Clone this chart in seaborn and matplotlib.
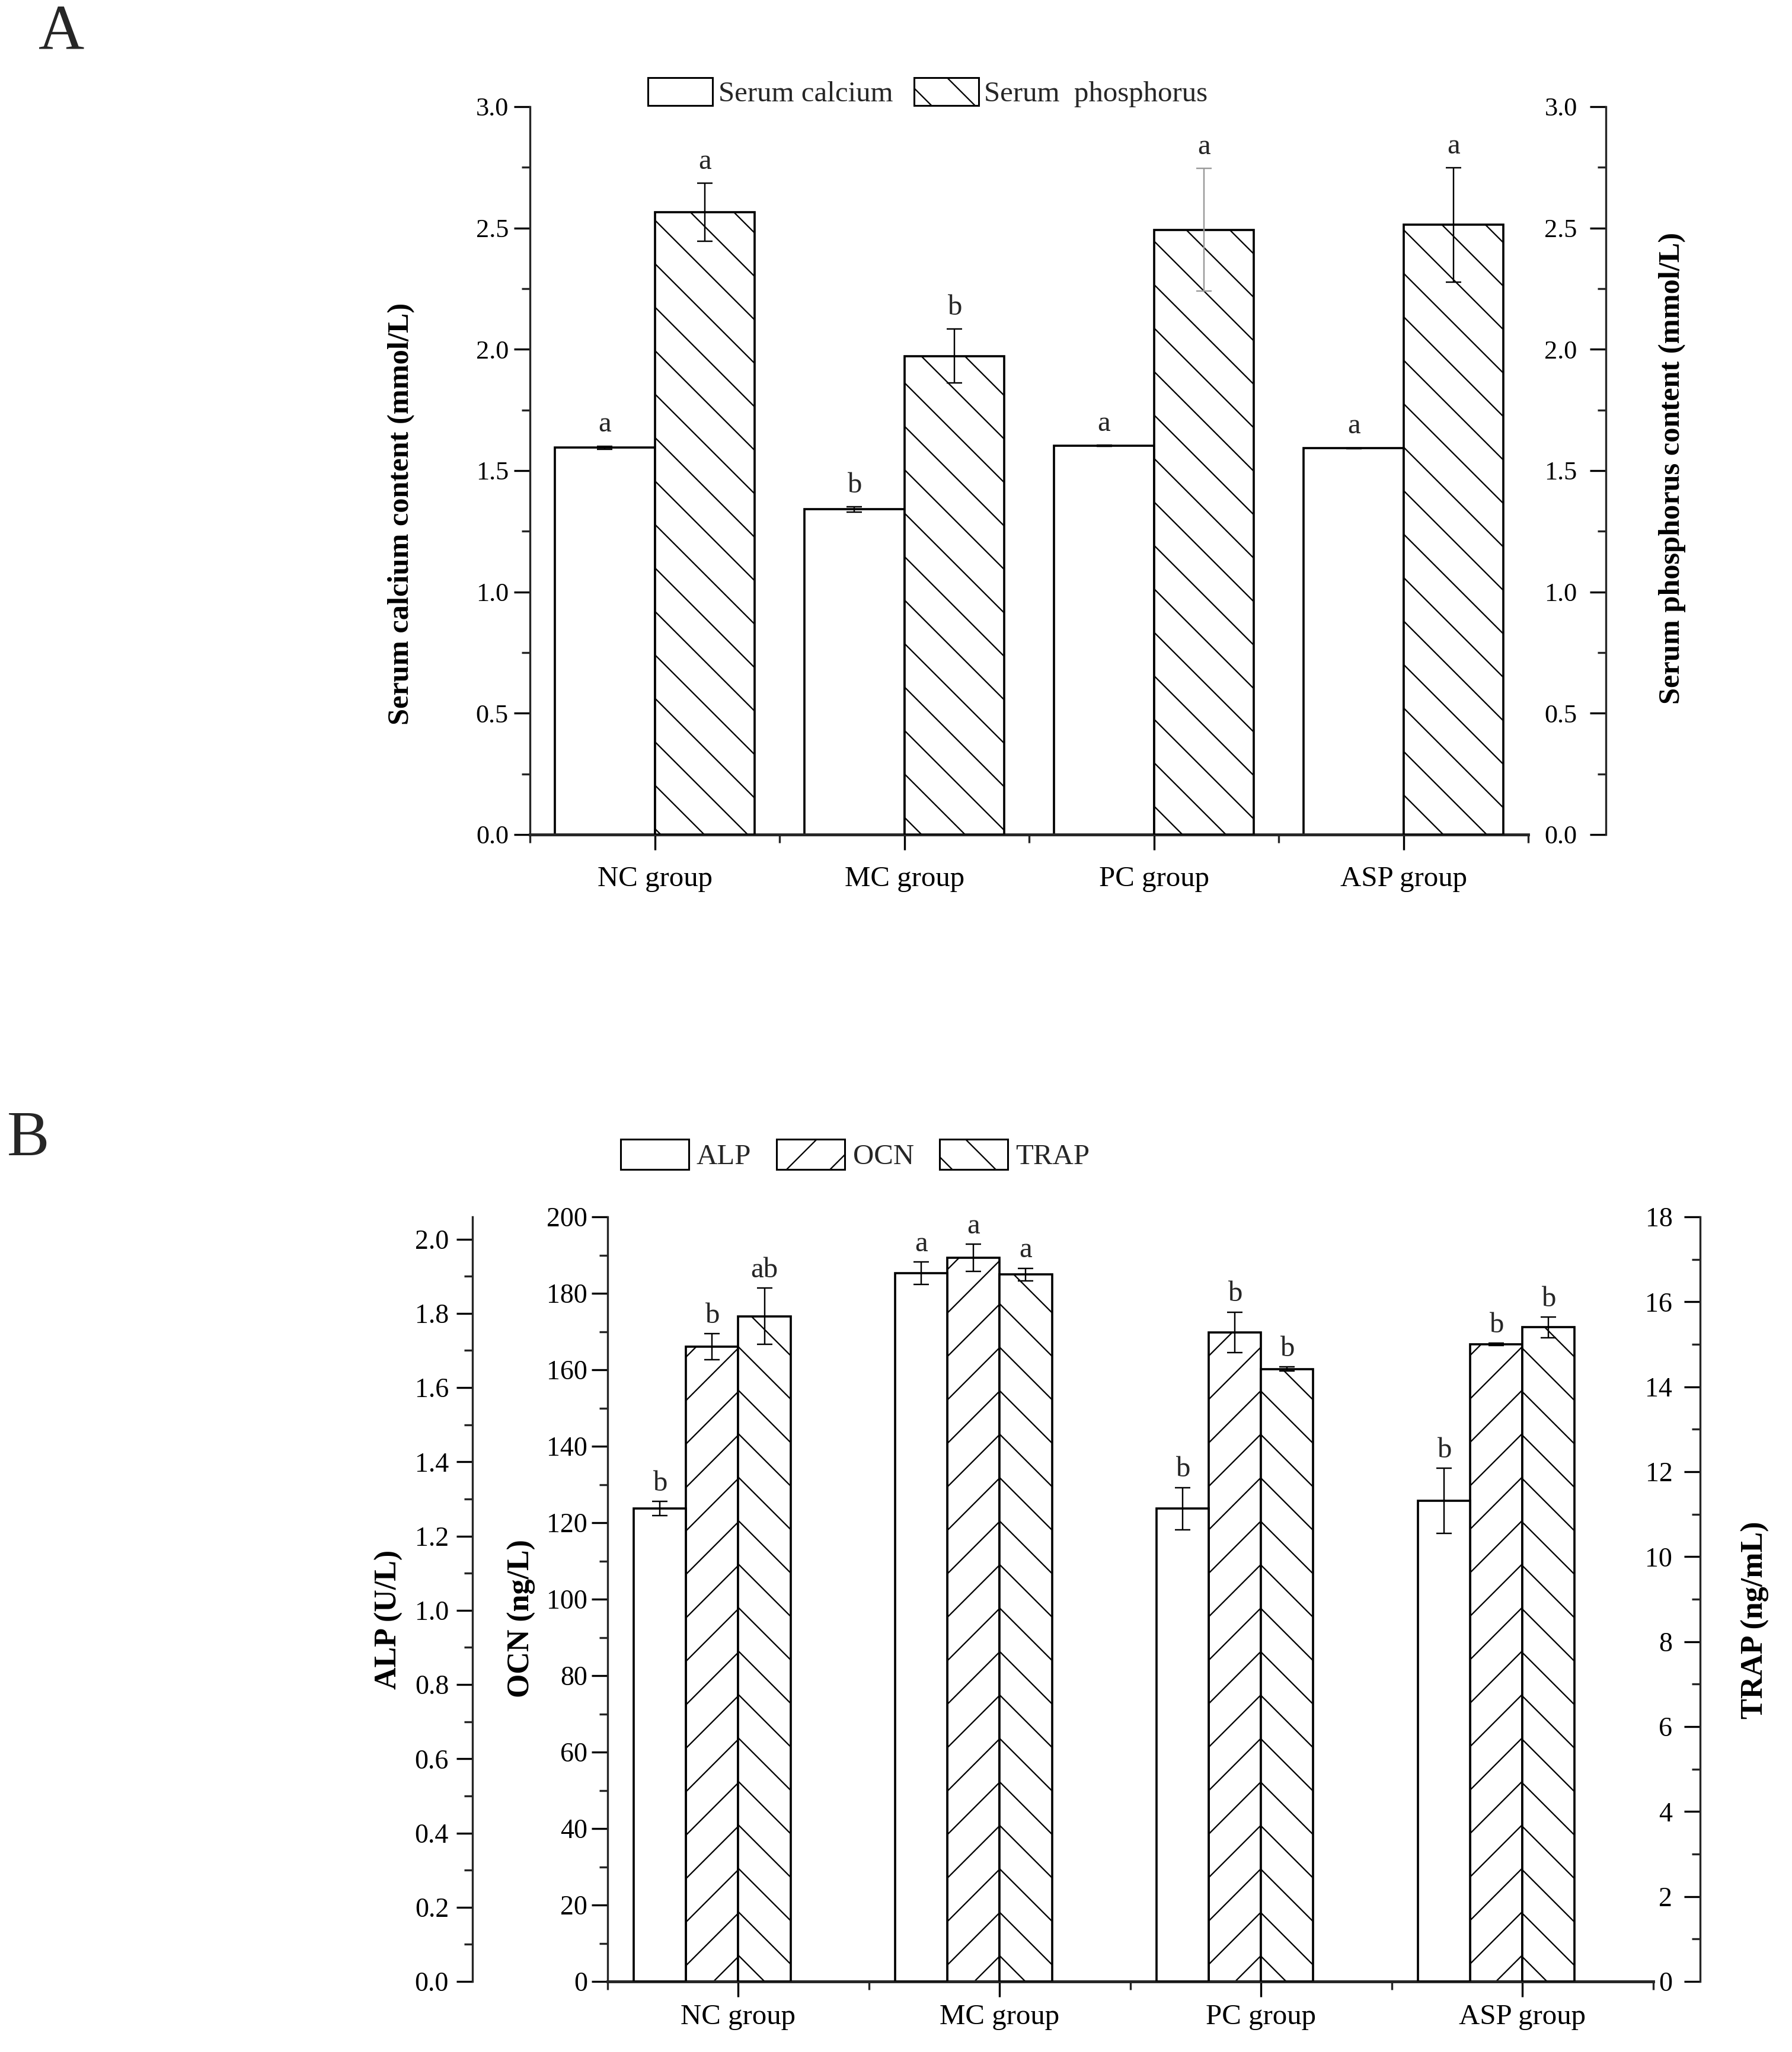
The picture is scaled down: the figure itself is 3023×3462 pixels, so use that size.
import matplotlib
matplotlib.use('Agg')
import matplotlib.pyplot as plt
from matplotlib.patches import Patch
from matplotlib.ticker import MultipleLocator, FixedLocator, FormatStrFormatter
import seaborn as sns

groups = ['NC group', 'MC group', 'PC group', 'ASP group']

# Panel A: serum calcium / phosphorus (mmol/L)
calcium = [1.595, 1.340, 1.602, 1.592]
calcium_err = [0.006, 0.010, 0.003, 0.002]
calcium_sig = ['a', 'b', 'a', 'a']
phosphorus = [2.565, 1.972, 2.493, 2.513]
phosphorus_err = [0.119, 0.111, 0.253, 0.235]
phosphorus_sig = ['a', 'b', 'a', 'a']

# Panel B: ALP (U/L), OCN (ng/L), TRAP (ng/mL)
alp = [1.274, 1.908, 1.274, 1.295]
alp_err = [0.019, 0.030, 0.057, 0.088]
alp_sig = ['b', 'a', 'b', 'b']
ocn = [166.0, 189.3, 169.8, 166.7]
ocn_err = [3.4, 3.5, 5.3, 0.3]
ocn_sig = ['b', 'a', 'b', 'b']
trap = [15.66, 16.64, 14.42, 15.40]
trap_err = [0.66, 0.15, 0.05, 0.24]
trap_sig = ['ab', 'a', 'b', 'b']

sns.set_theme(style='ticks')
plt.rcParams['font.family'] = ['Liberation Serif', 'DejaVu Serif']
plt.rcParams['hatch.linewidth'] = 0.75
plt.rcParams['axes.linewidth'] = 1.1

DPI = 220
fig = plt.figure(figsize=(3023 / DPI, 3462 / DPI), dpi=DPI)
fig.patch.set_facecolor('white')


def bars(ax, pos, vals, width, hatch):
    sns.barplot(x=pos, y=vals, native_scale=True, width=width, color='white',
                saturation=1, edgecolor='black', linewidth=1.2, hatch=hatch,
                errorbar=None, ax=ax, zorder=2)


def errs(ax, pos, vals, err, colors=None):
    for i, (p, v, e) in enumerate(zip(pos, vals, err)):
        c = colors[i] if colors else 'black'
        ax.errorbar(p, v, yerr=e, fmt='none', ecolor=c, elinewidth=0.8,
                    capsize=4.4, capthick=0.8, zorder=3)


def letters(ax, pos, vals, err, sig, off):
    for p, v, e, s in zip(pos, vals, err, sig):
        ax.annotate(s, xy=(p, v + e), xytext=(0, off), textcoords='offset points',
                    ha='center', va='baseline', fontsize=16)


def yaxis_style(ax, major, minor, fmt, size, pad):
    ax.yaxis.set_major_locator(MultipleLocator(major))
    ax.yaxis.set_minor_locator(MultipleLocator(minor))
    ax.yaxis.set_major_formatter(FormatStrFormatter(fmt))
    ax.tick_params(axis='y', which='major', direction='out', length=8.8, width=1.1,
                   labelsize=size, pad=pad, colors='black')
    ax.tick_params(axis='y', which='minor', direction='out', length=4.6, width=1.1)


def xaxis_style(ax, pad):
    ax.xaxis.set_major_locator(FixedLocator(range(len(groups))))
    ax.xaxis.set_minor_locator(FixedLocator([i - 0.5 for i in range(len(groups) + 1)]))
    ax.set_xticklabels(groups)
    ax.tick_params(axis='x', which='major', direction='out', length=8.5, width=1.1,
                   labelsize=16, pad=pad, colors='black')
    ax.tick_params(axis='x', which='minor', direction='out', length=4.6, width=1.1)
    ax.spines['bottom'].set_linewidth(1.6)
    # the category axis stops at the last half-step, short of the right spine
    ax.spines['bottom'].set_bounds(-0.5, len(groups) - 0.5)


def right_axis_left_labels(ax):
    # right-hand axis whose ticks and labels sit on the inner side of the spine
    for s in ['right', 'top', 'bottom']:
        ax.spines[s].set_visible(False)
    ax.spines['left'].set_visible(True)
    ax.spines['left'].set_position(('axes', 1.0))
    ax.yaxis.set_ticks_position('left')
    ax.yaxis.set_label_position('left')


def place_label(ax, text, x, y, size):
    ax.set_ylabel(text, fontsize=size, fontweight='bold', color='black')
    ax.yaxis.set_label_coords(x, y)
    ax.yaxis.label.set_va('center')
    ax.yaxis.label.set_ha('center')


# ---------------- Panel A ----------------
axA = fig.add_axes([0.29573, 0.59330, 0.60040, 0.35471])
axA2 = axA.twinx()

posCa = [i - 0.2 for i in range(len(groups))]
posP = [i + 0.2 for i in range(len(groups))]

bars(axA, posCa, calcium, 0.4, None)
bars(axA2, posP, phosphorus, 0.4, '\\')
errs(axA, posCa, calcium, calcium_err)
errs(axA2, posP, phosphorus, phosphorus_err, ['black', 'black', '#9a9a9a', 'black'])
letters(axA, posCa, calcium, calcium_err, calcium_sig, 8)
letters(axA2, posP, phosphorus, phosphorus_err, phosphorus_sig, 8)

for ax in (axA, axA2):
    ax.set_ylim(0, 3.0)
    ax.set_xlim(-0.5, 3.81)
axA.spines['top'].set_visible(False)
axA.spines['right'].set_visible(False)
axA.yaxis.set_ticks_position('left')
yaxis_style(axA, 0.5, 0.25, '%.1f', 14.5, 3)
right_axis_left_labels(axA2)
yaxis_style(axA2, 0.5, 0.25, '%.1f', 14.5, 7)
xaxis_style(axA, 9)
axA.set_xlabel('')
place_label(axA, 'Serum calcium content (mmol/L)', -0.1196, 0.4406, 16.5)
place_label(axA2, 'Serum phosphorus content (mmol/L)', 1.0617, 0.503, 16.5)

legA = [Patch(facecolor='white', edgecolor='black', linewidth=1.0, label='Serum calcium'),
        Patch(facecolor='white', edgecolor='black', linewidth=1.0, hatch='\\',
              label='Serum  phosphorus')]
fig.legend(handles=legA, loc='center left', bbox_to_anchor=(0.3616, 0.9549),
           ncol=2, frameon=False, fontsize=16, handlelength=2.23, handleheight=1.09,
           handletextpad=0.2, columnspacing=0.72, borderpad=0, borderaxespad=0)

# ---------------- Panel B ----------------
axB = fig.add_axes([0.33907, 0.03437, 0.60966, 0.37262])
axALP = axB.twinx()
axTRAP = axB.twinx()

posALP = [i - 0.3 for i in range(len(groups))]
posOCN = [i - 0.1 for i in range(len(groups))]
posTRAP = [i + 0.1 for i in range(len(groups))]

bars(axALP, posALP, alp, 0.2, None)
bars(axB, posOCN, ocn, 0.2, '/')
bars(axTRAP, posTRAP, trap, 0.2, '\\')
errs(axALP, posALP, alp, alp_err)
errs(axB, posOCN, ocn, ocn_err)
errs(axTRAP, posTRAP, trap, trap_err)
letters(axALP, posALP, alp, alp_err, alp_sig, 6)
letters(axB, posOCN, ocn, ocn_err, ocn_sig, 6)
letters(axTRAP, posTRAP, trap, trap_err, trap_sig, 6)

for ax in (axB, axALP, axTRAP):
    ax.set_xlim(-0.5, 3.68)
axB.set_ylim(0, 200)
axALP.set_ylim(0, 2.06)
axTRAP.set_ylim(0, 18)

axB.spines['top'].set_visible(False)
axB.spines['right'].set_visible(False)
axB.yaxis.set_ticks_position('left')
yaxis_style(axB, 20, 10, '%d', 15, 2.3)

for s in ['right', 'top', 'bottom']:
    axALP.spines[s].set_visible(False)
axALP.spines['left'].set_visible(True)
axALP.spines['left'].set_position(('axes', -0.1237))
axALP.yaxis.set_ticks_position('left')
axALP.yaxis.set_label_position('left')
yaxis_style(axALP, 0.2, 0.1, '%.1f', 15, 4.3)

right_axis_left_labels(axTRAP)
yaxis_style(axTRAP, 2, 1, '%d', 15, 6.5)

xaxis_style(axB, 4)
axB.set_xlabel('')
place_label(axALP, 'ALP (U/L)', -0.2002, 0.473, 17)
place_label(axB, 'OCN (ng/L)', -0.0787, 0.475, 17)
place_label(axTRAP, 'TRAP (ng/mL)', 1.0505, 0.473, 17)

legB = [Patch(facecolor='white', edgecolor='black', linewidth=1.0, label='ALP'),
        Patch(facecolor='white', edgecolor='black', linewidth=1.0, hatch='/', label='OCN'),
        Patch(facecolor='white', edgecolor='black', linewidth=1.0, hatch='\\', label='TRAP')]
fig.legend(handles=legB, loc='center left', bbox_to_anchor=(0.3463, 0.4373),
           ncol=3, frameon=False, fontsize=16, handlelength=2.35, handleheight=1.23,
           handletextpad=0.27, columnspacing=0.88, borderpad=0, borderaxespad=0)

# panel letters
fig.text(65 / 3023, 1 - 83 / 3462, 'A', fontsize=35, ha='left', va='baseline')
fig.text(12 / 3023, 1 - 1949 / 3462, 'B', fontsize=35, ha='left', va='baseline')

fig.savefig('out.png', dpi=DPI, facecolor='white')
